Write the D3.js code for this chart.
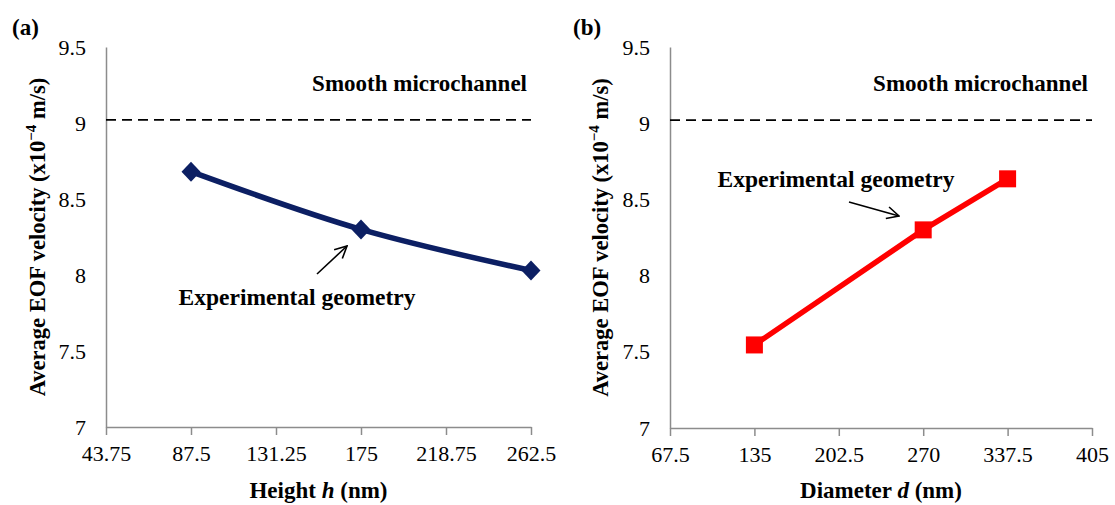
<!DOCTYPE html>
<html>
<head>
<meta charset="utf-8">
<script src="https://cdn.jsdelivr.net/npm/d3@7"></script>
<style>
  body { margin: 0; background: #fff; }
</style>
</head>
<body>
<div id="svg-container"></div>
<script>
const heightTicks = [43.75, 87.5, 131.25, 175, 218.75, 262.5]
const heightVals = [87.5, 175, 262.5]
const heightVel = [8.68, 8.30, 8.03]

const diamTicks = [67.5, 135, 202.5, 270, 337.5, 405]
const diamVals = [135, 270, 337.5]
const diamVel = [7.545, 8.30, 8.635]

const velTicks = [7, 7.5, 8, 8.5, 9, 9.5]
const smoothVel = 9.02

const W = 1115
const H = 505
const FONT = '"Liberation Serif", "Times New Roman", serif'

const svg = d3.select('#svg-container').append('svg')
  .attr('width', W).attr('height', H)

const defs = svg.append('defs')
defs.append('marker')
  .attr('id', 'arrow')
  .attr('markerUnits', 'userSpaceOnUse')
  .attr('viewBox', '0 0 14 14')
  .attr('refX', 13).attr('refY', 7)
  .attr('markerWidth', 14).attr('markerHeight', 14)
  .attr('orient', 'auto')
  .append('path')
  .attr('d', 'M1,1 L13,7 L1,13')
  .attr('fill', 'none')
  .attr('stroke', '#000')
  .attr('stroke-width', 1.6)

function label(sel, size, bold) {
  return sel.style('font-family', FONT)
    .style('font-size', size + 'px')
    .style('font-weight', bold ? 'bold' : 'normal')
    .attr('fill', '#000')
}

function panel(opt) {
  const g = svg.append('g')
  const x = d3.scaleLinear().domain(d3.extent(opt.xTicks)).range([opt.x0, opt.x1])
  const y = d3.scaleLinear().domain([7, 9.5]).range([opt.yBot, opt.yTop])

  // x axis
  const xa = g.append('g')
    .attr('transform', `translate(0,${opt.yBot})`)
    .call(d3.axisBottom(x).tickValues(opt.xTicks).tickSize(8).tickSizeOuter(0).tickPadding(10)
      .tickFormat(d => String(d)))
  xa.select('.domain').attr('stroke', '#8c8c8c').attr('stroke-width', 1.5)
  xa.selectAll('.tick line').attr('stroke', '#8c8c8c').attr('stroke-width', 1.5)
  label(xa.selectAll('.tick text'), 22, false)

  // y axis, no tick marks
  const ya = g.append('g')
    .attr('transform', `translate(${opt.x0},0)`)
    .call(d3.axisLeft(y).tickValues(velTicks).tickSize(0).tickPadding(20)
      .tickFormat(d => String(d)))
  ya.select('.domain').attr('stroke', '#8c8c8c').attr('stroke-width', 1.5)
  label(ya.selectAll('.tick text'), 22, false)

  // smooth channel reference
  g.append('line')
    .attr('x1', opt.x0).attr('x2', opt.x1)
    .attr('y1', y(smoothVel)).attr('y2', y(smoothVel))
    .attr('stroke', '#000').attr('stroke-width', 1.8)
    .attr('stroke-dasharray', '10,6')
  label(g.append('text'), 23, true)
    .attr('x', opt.x1 - 4).attr('y', 91)
    .attr('text-anchor', 'end')
    .text('Smooth microchannel')

  const pts = opt.xs.map((v, i) => [x(v), y(opt.ys[i])])
  g.append('path')
    .attr('d', d3.line().curve(opt.curve)(pts))
    .attr('fill', 'none')
    .attr('stroke', opt.color)
    .attr('stroke-width', 5.5)

  if (opt.marker === 'diamond') {
    g.selectAll('.mk').data(pts).join('path')
      .attr('d', d => `M${d[0]},${d[1] - 10}L${d[0] + 9.5},${d[1]}L${d[0]},${d[1] + 10}L${d[0] - 9.5},${d[1]}Z`)
      .attr('fill', opt.color)
  } else {
    g.selectAll('.mk').data(pts).join('rect')
      .attr('x', d => d[0] - 8.5).attr('y', d => d[1] - 8.5)
      .attr('width', 17).attr('height', 17)
      .attr('fill', opt.color)
  }

  // labels
  label(g.append('text'), 23, true)
    .attr('x', opt.labelX).attr('y', 35)
    .text(opt.tag)

  label(g.append('text'), 23, true)
    .attr('x', (opt.x0 + opt.x1) / 2).attr('y', 498)
    .attr('text-anchor', 'middle')
    .call(t => {
      t.append('tspan').text(opt.xName + ' ')
      t.append('tspan').style('font-style', 'italic').text(opt.xVar)
      t.append('tspan').text(' (nm)')
    })

  const yl = label(g.append('text'), 22.5, true)
    .attr('transform', `translate(${opt.yLabelX},${(opt.yTop + opt.yBot) / 2}) rotate(-90)`)
    .attr('text-anchor', 'middle')
  yl.append('tspan').text('Average EOF velocity (x10')
  yl.append('tspan').style('font-size', '15px').attr('dy', -9).text('\u22124')
  yl.append('tspan').attr('dy', 9).text(' m/s)')

  label(g.append('text'), 23.5, true)
    .attr('x', opt.annX).attr('y', opt.annY)
    .attr('text-anchor', 'middle')
    .text('Experimental geometry')

  g.append('line')
    .attr('x1', opt.arrow[0]).attr('y1', opt.arrow[1])
    .attr('x2', opt.arrow[2]).attr('y2', opt.arrow[3])
    .attr('stroke', '#000').attr('stroke-width', 1.6)
    .attr('marker-end', 'url(#arrow)')
}

panel({
  x0: 106, x1: 531, yTop: 47, yBot: 427,
  xTicks: heightTicks, xs: heightVals, ys: heightVel,
  color: '#0c1f63', marker: 'diamond', curve: d3.curveCatmullRom,
  tag: '(a)', labelX: 12, xName: 'Height', xVar: 'h', yLabelX: 45,
  annX: 297, annY: 305, arrow: [317, 274, 347, 246],
})

panel({
  x0: 670, x1: 1092, yTop: 47, yBot: 428,
  xTicks: diamTicks, xs: diamVals, ys: diamVel,
  color: '#ff0000', marker: 'square', curve: d3.curveLinear,
  tag: '(b)', labelX: 573, xName: 'Diameter', xVar: 'd', yLabelX: 608,
  annX: 836, annY: 187, arrow: [849, 202, 899, 216],
})
</script>
</body>
</html>
